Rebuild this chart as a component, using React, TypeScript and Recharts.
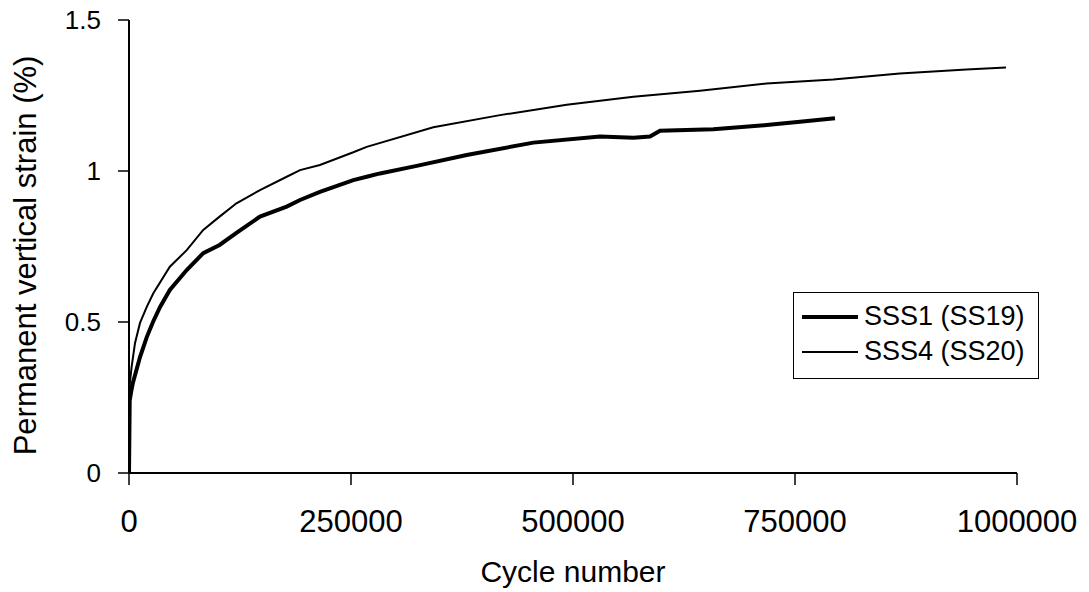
import React from "react";
import { LineChart, Line, XAxis, YAxis, Legend } from "recharts";

// SSS1 (SS19) - thick line
const cyclesSS19 = [
  0, 800, 2500, 4500, 12400, 20000, 27000, 35000, 46000, 65000, 83600, 102000,
  121000, 147500, 177600, 192600, 215000, 252600, 267700, 282600, 324000,
  380300, 455400, 530400, 568000, 586700, 598000, 658000, 718000, 755600,
  795000,
];
const strainSS19 = [
  0, 0.24, 0.27, 0.3, 0.384, 0.45, 0.5, 0.55, 0.606, 0.672, 0.728, 0.755,
  0.795, 0.849, 0.882, 0.904, 0.931, 0.97, 0.981, 0.992, 1.017, 1.053, 1.094,
  1.114, 1.11, 1.114, 1.133, 1.138, 1.152, 1.163, 1.175,
];

// SSS4 (SS20) - thin line
const cyclesSS20 = [
  0, 1000, 3000, 6750, 12400, 20000, 27400, 46000, 65000, 83600, 102000,
  121000, 147500, 177600, 192600, 215000, 252600, 267700, 342700, 417800,
  492900, 568000, 643000, 718000, 793000, 868000, 943000, 987600,
];
const strainSS20 = [
  0, 0.3, 0.352, 0.43, 0.497, 0.55, 0.595, 0.683, 0.738, 0.805, 0.849, 0.893,
  0.937, 0.981, 1.003, 1.02, 1.062, 1.08, 1.145, 1.185, 1.219, 1.246, 1.266,
  1.29, 1.303, 1.323, 1.336, 1.343,
];

const xTicks = [0, 250000, 500000, 750000, 1000000];
const yTicks = [0, 0.5, 1, 1.5];

const ss19 = cyclesSS19.map((x, i) => ({ x, y: strainSS19[i] }));
const ss20 = cyclesSS20.map((x, i) => ({ x, y: strainSS20[i] }));

const FONT = "Arial, 'Liberation Sans', sans-serif";

const LegendBox = ({ payload }: any) => (
  <div
    style={{
      border: "1.5px solid #000",
      background: "#fff",
      padding: "6px 8px",
      boxSizing: "border-box",
      width: "100%",
      height: "100%",
      fontFamily: FONT,
      fontSize: 27,
      color: "#000",
    }}
  >
    {(payload || []).map((entry: any) => (
      <div
        key={entry.value}
        style={{ display: "flex", alignItems: "center", height: 35 }}
      >
        <svg width={58} height={10} style={{ marginRight: 4 }}>
          <line
            x1={0}
            y1={5}
            x2={56}
            y2={5}
            stroke="#000"
            strokeWidth={entry.payload?.strokeWidth ?? 2}
          />
        </svg>
        <span>{entry.value}</span>
      </div>
    ))}
  </div>
);

export default function App() {
  return (
    <div style={{ position: "absolute", left: 0, top: 0, background: "#fff" }}>
      <LineChart
        width={1089}
        height={592}
        margin={{ top: 20, right: 72, bottom: 0, left: 0 }}
        style={{ fontFamily: FONT }}
      >
        <XAxis
          type="number"
          dataKey="x"
          domain={[0, 1000000]}
          ticks={xTicks}
          allowDataOverflow
          height={119}
          tickSize={12}
          tickMargin={25}
          axisLine={{ stroke: "#000", strokeWidth: 2 }}
          tickLine={{ stroke: "#000", strokeWidth: 1.5 }}
          tick={{ fill: "#000", fontSize: 31 }}
          label={{
            value: "Cycle number",
            position: "insideBottom",
            offset: 10,
            fill: "#000",
            fontSize: 30,
          }}
        />
        <YAxis
          type="number"
          dataKey="y"
          domain={[0, 1.5]}
          ticks={yTicks}
          width={129}
          tickSize={11}
          tickMargin={17}
          axisLine={{ stroke: "#000", strokeWidth: 2 }}
          tickLine={{ stroke: "#000", strokeWidth: 1.5 }}
          tick={{ fill: "#000", fontSize: 26 }}
          label={{
            value: "Permanent vertical strain (%)",
            angle: -90,
            position: "insideLeft",
            offset: 25,
            dy: 9,
            fill: "#000",
            fontSize: 31,
            style: { textAnchor: "middle" },
          }}
        />
        <Legend
          layout="vertical"
          align="center"
          verticalAlign="middle"
          content={<LegendBox />}
          wrapperStyle={{ left: 793, top: 292, width: 246, height: 87 }}
        />
        <Line
          data={ss19}
          dataKey="y"
          name="SSS1 (SS19)"
          type="linear"
          stroke="#000"
          strokeWidth={4}
          dot={false}
          isAnimationActive={false}
        />
        <Line
          data={ss20}
          dataKey="y"
          name="SSS4 (SS20)"
          type="linear"
          stroke="#000"
          strokeWidth={2}
          dot={false}
          isAnimationActive={false}
        />
      </LineChart>
    </div>
  );
}
